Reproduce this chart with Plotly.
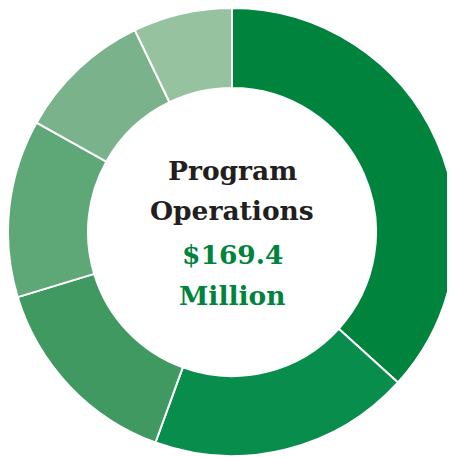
import plotly.graph_objects as go

labels = ["Segment A", "Segment B", "Segment C", "Segment D", "Segment E", "Segment F"]
values = [62.2, 31.9, 25.0, 21.7, 16.5, 12.1]
colors = ["#00843D", "#088D4C", "#3F9961", "#5EA776", "#7AB38B", "#97C2A0"]

title_lines = ["Program", "Operations"]
amount_lines = ["$169.4", "Million"]

W, H = 455, 457
# page body has an 8px offset; centre the donut at (224, 224) in figure px
CX, CY, R = 224, 224, 224

fig = go.Figure(go.Pie(
    labels=labels,
    values=values,
    hole=0.643,
    sort=False,
    direction="clockwise",
    rotation=0,
    textinfo="none",
    hoverinfo="label+value",
    marker=dict(colors=colors, line=dict(color="#FFFFFF", width=2)),
    domain=dict(x=[(CX - R) / W, (CX + R) / W], y=[1 - (CY + R) / H, 1 - (CY - R) / H]),
    showlegend=False,
))

font_family = "DejaVu Serif"
ys_px = [162, 203, 246, 287]  # vertical centres of lines, px from top
texts = title_lines + amount_lines
cols = ["#231F20", "#231F20", "#00843D", "#00843D"]
for t, ypx, c in zip(texts, ys_px, cols):
    fig.add_annotation(
        text=f"<b>{t}</b>", x=CX / W, y=1 - ypx / H, xref="paper", yref="paper",
        showarrow=False, xanchor="center", yanchor="middle",
        font=dict(family=font_family, size=26.5, color=c),
    )

fig.update_layout(
    width=W, height=H,
    margin=dict(l=0, r=0, t=0, b=0),
    paper_bgcolor="#FFFFFF",
    plot_bgcolor="#FFFFFF",
)

fig.write_html("out.html")
